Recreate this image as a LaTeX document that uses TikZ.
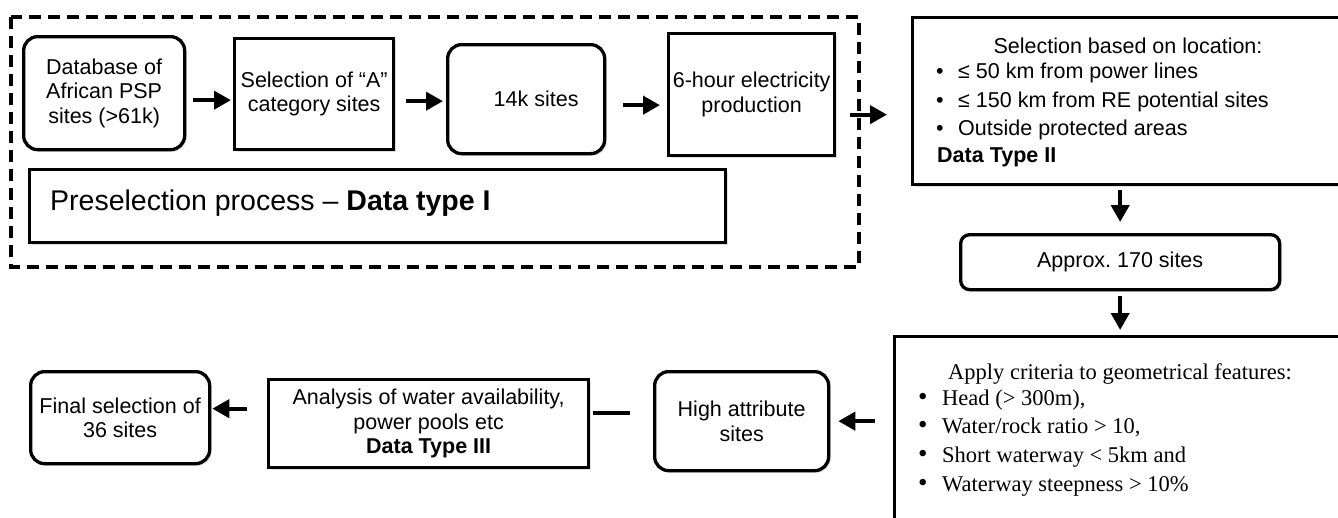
\documentclass[tikz,border=0pt]{standalone}
\usepackage{fontspec}
\setmainfont{Liberation Sans}
\newfontfamily\critfont{Liberation Serif}
\usetikzlibrary{arrows.meta,shadows}
\newcommand{\mainfs}{\frenchspacing\fontsize{21.5}{24.5}\selectfont}
\newcommand{\critfs}{\frenchspacing\critfont\fontsize{22.5}{26}\selectfont}
\newcommand{\cbul}{\makebox[24pt][l]{\fontsize{27}{26}\selectfont •}}
\tikzset{
  box/.style={draw, line width=3.3pt, fill=white, inner sep=0pt, align=center, font=\mainfs,
    drop shadow={opacity=0.25, shadow xshift=2pt, shadow yshift=-2pt}},
  rbox/.style={box, rounded corners=14pt},
  arr/.style={line width=4pt, -{Triangle[length=17pt,width=18pt]}},
  plain/.style={line width=4pt},
  txt/.style={inner sep=0pt, font=\mainfs},
  ctxt/.style={inner sep=0pt, font=\critfs},
  frame/.style={line width=3.2pt, dash pattern=on 12pt off 7pt}
}
\begin{document}
\begin{tikzpicture}[x=1pt,y=-1pt]
\useasboundingbox (0,0) rectangle (1338,517);
\clip (0,0) rectangle (1338,517);
\fill[white] (0,0) rectangle (1338,517);

% dashed frame
\draw[frame] (11,17) rectangle (859,267);

% top row
\node[rbox, anchor=north west, minimum width=161pt, minimum height=113pt] (db) at (22,35)
  {Database of\\African PSP\\sites (>61k)};
\node[box, anchor=north west, minimum width=159pt, minimum height=111pt] (selA) at (233,37)
  {Selection of “A”\\category sites};
\node[rbox, anchor=north west, minimum width=157pt, minimum height=109pt] (k14) at (446,43)
  {\hspace*{20pt}14k sites};
\node[box, anchor=north west, minimum width=166pt, minimum height=122pt] (sixh) at (667,32)
  {6-hour electricity\\production};

\node[box, anchor=north west, minimum width=696pt, minimum height=73pt] (pre) at (28,168) {};
\node[txt, anchor=base west, font=\fontsize{28.5}{32}\selectfont] (preT) at (50,210)
  {Preselection process – \textbf{Data type I}};

% location box
\node[box, anchor=north west, minimum width=440pt, minimum height=167pt] (loc) at (911,16) {};
\node[txt, anchor=base] (locT) at (1128,53) {Selection based on location:};
\node[txt, anchor=base west] (locA) at (936,78) {\makebox[22pt][l]{•}≤ 50 km from power lines};
\node[txt, anchor=base west] (locB) at (936,107) {\makebox[22pt][l]{•}≤ 150 km from RE potential sites};
\node[txt, anchor=base west] (locC) at (936,135) {\makebox[22pt][l]{•}Outside protected areas};
\node[txt, anchor=base west] (locD) at (937,162) {\textbf{Data Type II}};

\node[box, rounded corners=9pt, anchor=north west, minimum width=319pt, minimum height=55pt] (apx) at (959,233)
  {Approx. 170 sites};

% criteria box
\node[box, anchor=north west, minimum width=470pt, minimum height=200pt] (crit) at (893,335) {};
\node[ctxt, anchor=base west] (critT) at (948,379) {Apply criteria to geometrical features:};
\node[ctxt, anchor=base west] (critA) at (918,405) {\cbul Head (> 300m),};
\node[ctxt, anchor=base west] (critB) at (918,433) {\cbul Water/rock ratio > 10,};
\node[ctxt, anchor=base west] (critC) at (918,462) {\cbul Short waterway < 5km and};
\node[ctxt, anchor=base west] (critD) at (918,491) {\cbul Waterway steepness > 10\%};

% bottom row
\node[rbox, anchor=north west, minimum width=174pt, minimum height=99pt] (high) at (653,370)
  {High attribute\\sites};
\node[box, anchor=north west, minimum width=320pt, minimum height=88pt] (ana) at (267,378)
  {Analysis of water availability,\\power pools etc\\\textbf{Data Type III}};
\node[rbox, anchor=north west, minimum width=179pt, minimum height=92pt] (final) at (29,370)
  {Final selection of\\36 sites};

% connectors
\draw[arr, shorten <=7pt, shorten >=2pt] ([yshift=-7pt]db.east) -- ([yshift=-7pt]db.east -| selA.west);
\draw[arr, shorten <=11pt, shorten >=3pt] ([yshift=-7pt]selA.east) -- ([yshift=-7pt]selA.east -| k14.west);
\draw[arr, shorten <=17pt, shorten >=7pt] ([yshift=-6pt]k14.east) -- ([yshift=-6pt]k14.east -| sixh.west);
\draw[arr, shorten <=14pt, shorten >=24pt] ([yshift=-20pt]sixh.east) -- ([yshift=-20pt]sixh.east -| loc.west);
\draw[arr, shorten <=4pt, shorten >=11pt] (loc.south -| apx.north) -- (apx.north);
\draw[arr, shorten <=5pt, shorten >=5pt] (apx.south) -- (apx.south |- crit.north);
\draw[arr, shorten <=18pt, shorten >=8pt] (crit.west |- high.east) -- (high.east);
\draw[plain, shorten <=3pt, shorten >=23pt] ([yshift=8pt]high.west -| ana.east) -- ([yshift=8pt]high.west);
\draw[arr, shorten <=20pt, shorten >=1pt] ([yshift=9pt]final.east -| ana.west) -- ([yshift=9pt]final.east);
\end{tikzpicture}
\end{document}
